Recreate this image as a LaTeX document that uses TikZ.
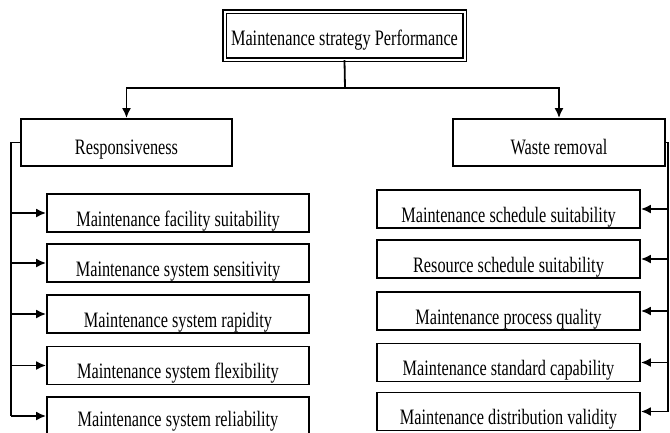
\documentclass[tikz,border=0pt]{standalone}
\usepackage{fontspec}
\setmainfont[FakeStretch=0.74]{Liberation Serif}
\usetikzlibrary{arrows.meta}
\begin{document}
\begin{tikzpicture}[x=1pt,y=-1pt,
  font=\fontsize{22}{24}\selectfont,
  box/.style={draw,line width=1.8pt,inner sep=0pt,minimum height=38pt,text height=27pt,text depth=1pt},
  lbox/.style={box,minimum width=262pt},
  rbox/.style={box,minimum width=263pt},
  midbox/.style={draw,line width=1.8pt,inner sep=0pt,minimum height=47pt,minimum width=211pt,text height=25pt,text depth=1pt},
  topbox/.style={draw,line width=1.3pt,double,double distance=2pt,inner sep=0pt,minimum width=240pt,minimum height=48pt,text height=20pt,text depth=1pt},
  conn/.style={line width=1.8pt},
  arr/.style={conn,-{Latex[length=10pt,width=9pt]}}]
\useasboundingbox (0,0) rectangle (670,432);
\node[topbox] (top) at (344.5,35.5) {Maintenance strategy Performance};
\node[midbox] (resp) at (126.5,142.5) {Responsiveness};
\node[midbox,minimum width=212pt] (waste) at (559,142.5) {Waste removal};
\node[lbox] (l1) at (178,213) {Maintenance facility suitability};
\node[lbox] (l2) at (178,263) {Maintenance system sensitivity};
\node[lbox] (l3) at (178,314) {Maintenance system rapidity};
\node[lbox] (l4) at (178,365.5) {Maintenance system flexibility};
\node[lbox,text height=22pt] (l5) at (178,416) {Maintenance system reliability};
\node[rbox] (r1) at (508.5,209) {Maintenance schedule suitability};
\node[rbox] (r2) at (508.5,259) {Resource schedule suitability};
\node[rbox] (r3) at (508.5,311) {Maintenance process quality};
\node[rbox] (r4) at (508.5,362.5) {Maintenance standard capability};
\node[rbox] (r5) at (508.5,411.5) {Maintenance distribution validity};
\coordinate (jn) at (345,88);
\coordinate (lc) at (11,142.5);
\coordinate (rc) at (668,142.5);
\draw[conn] (top.south) -- (jn);
\draw[arr] (jn) -| (resp.north);
\draw[arr] (jn) -| (waste.north);
\draw[conn] (resp.west) -- (lc) -- (lc |- l5.west);
\draw[conn] (waste.east) -- (rc) -- (rc |- r5.east);
\foreach \n in {l1,l2,l3,l4,l5}{\draw[arr] (lc |- \n.west) -- (\n.west);}
\foreach \n in {r1,r2,r3,r4,r5}{\draw[arr] (rc |- \n.east) -- (\n.east);}
\end{tikzpicture}
\end{document}
